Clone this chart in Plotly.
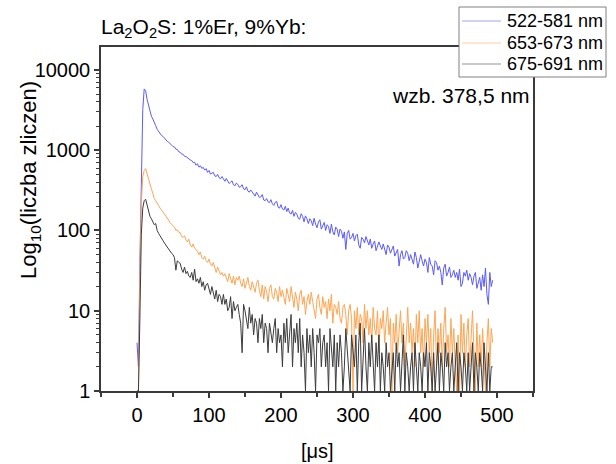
import plotly.graph_objects as go

# time axis (µs), step 2 µs
time_us = list(range(0, 496, 2))

blue_522_581 = [
    4, 2, 40, 700, 3200, 5800, 5500, 4300, 3600, 3000,
    2650, 2450, 2150, 2020, 1820, 1700, 1640, 1530, 1490, 1410,
    1340, 1290, 1260, 1200, 1170, 1110, 1100, 1030, 1020, 955,
    945, 895, 890, 840, 835, 800, 780, 755, 745, 700,
    710, 650, 680, 615, 640, 595, 610, 565, 590, 530,
    560, 505, 515, 530, 480, 470, 500, 455, 440, 470,
    440, 410, 445, 420, 385, 400, 415, 370, 360, 390,
    375, 345, 350, 372, 330, 322, 350, 310, 300, 320,
    305, 290, 268, 300, 282, 258, 262, 280, 240, 235,
    250, 228, 222, 242, 215, 205, 225, 230, 195, 190,
    210, 185, 180, 200, 172, 190, 165, 160, 178, 150,
    168, 160, 142, 138, 162, 150, 128, 152, 140, 122,
    140, 132, 115, 142, 120, 108, 128, 136, 104, 112,
    126, 100, 118, 112, 92, 120, 96, 88, 110, 104,
    84, 104, 98, 80, 96, 58, 92, 100, 78, 82,
    92, 74, 86, 90, 66, 60, 82, 78, 70, 84,
    72, 66, 78, 60, 68, 74, 56, 62, 72, 64,
    58, 68, 56, 50, 66, 62, 52, 58, 64, 48,
    54, 58, 36, 50, 56, 44, 46, 56, 52, 42,
    50, 44, 38, 54, 46, 34, 40, 50, 42, 36,
    44, 40, 30, 46, 38, 36, 28, 42, 40, 32,
    36, 30, 21, 34, 38, 27, 30, 35, 26, 28,
    32, 26, 30, 24, 33, 20, 22, 30, 27, 32,
    24, 29, 26, 21, 27, 30, 19, 22, 26, 18,
    28, 20, 34, 16, 12, 30, 20, 24,
]

orange_653_673 = [
    1, 1, 30, 220, 470, 560, 590, 500, 430, 360,
    330, 290, 250, 235, 215, 205, 190, 180, 165, 158,
    150, 140, 135, 125, 120, 113, 110, 100, 102, 95,
    94, 84, 82, 86, 76, 72, 78, 66, 62, 68,
    60, 58, 55, 50, 54, 46, 44, 48, 42, 40,
    44, 38, 36, 40, 33, 30, 35, 31, 28, 30,
    27, 29, 25, 23, 29, 26, 22, 27, 21, 26,
    24, 27, 22, 20, 25, 19, 23, 26, 20, 18,
    23, 20, 17, 22, 24, 18, 15, 21, 14, 20,
    17, 13, 19, 21, 15, 14, 19, 17, 13, 20,
    15, 18, 14, 12, 19, 16, 13, 20, 15, 11,
    17, 14, 10, 16, 18, 12, 15, 9, 13, 16,
    12, 17, 13, 10, 8, 14, 16, 11, 9, 15,
    11, 13, 8, 14, 10, 16, 7, 12, 11, 9,
    13, 8, 7, 11, 12, 9, 5, 10, 12, 8,
    1, 10, 6, 11, 5, 9, 8, 4, 12, 6,
    10, 5, 8, 4, 11, 6, 5, 10, 3, 8,
    6, 10, 4, 7, 11, 5, 8, 1, 7, 4,
    9, 3, 6, 10, 4, 7, 2, 6, 11, 4,
    7, 3, 6, 2, 9, 4, 10, 3, 6, 2,
    8, 4, 9, 3, 6, 1, 5, 10, 2, 6,
    3, 7, 2, 6, 11, 3, 5, 2, 8, 3,
    6, 2, 1, 5, 1, 9, 3, 7, 2, 5,
    8, 2, 5, 10, 3, 1, 7, 2, 5, 2,
    6, 2, 1, 4, 8, 2, 6, 4,
]

black_675_691 = [
    1, 1, 8, 90, 190, 235, 245, 210, 170, 150,
    140, 130, 118, 122, 100, 92, 85, 78, 75, 70,
    66, 62, 58, 54, 52, 50, 46, 32, 42, 40,
    39, 33, 30, 35, 29, 31, 27, 26, 30, 24,
    33, 23, 25, 22, 26, 20, 23, 18, 21, 22,
    19, 16, 20, 17, 14, 18, 13, 16, 15, 12,
    16, 12, 14, 10, 11, 15, 8, 13, 10, 11,
    12, 9, 7, 3, 12, 10, 8, 6, 11, 7,
    9, 5, 8, 7, 4, 8, 6, 9, 4, 7,
    6, 3, 7, 5, 4, 6, 8, 3, 6, 4,
    5, 2, 7, 4, 8, 3, 5, 9, 2, 6,
    4, 7, 3, 8, 2, 5, 3, 1, 6, 3,
    5, 2, 6, 3, 1, 5, 4, 6, 2, 4,
    5, 2, 4, 1, 6, 3, 2, 5, 1, 4,
    2, 5, 3, 1, 2, 6, 3, 2, 1, 5,
    3, 2, 5, 1, 4, 7, 1, 3, 6, 2,
    1, 4, 2, 5, 2, 1, 4, 2, 5, 1,
    3, 2, 1, 4, 2, 3, 1, 2, 3, 1,
    4, 2, 3, 1, 2, 5, 1, 3, 2, 1,
    2, 3, 1, 4, 2, 1, 3, 2, 1, 3,
    2, 4, 1, 3, 2, 1, 3, 1, 2, 4,
    1, 3, 2, 1, 4, 2, 3, 1, 2, 3,
    1, 2, 4, 1, 3, 2, 1, 3, 2, 1,
    3, 1, 2, 4, 1, 3, 2, 1, 3, 2,
    1, 4, 2, 1, 3, 1, 2, 2,
]

series_names = ["522-581 nm", "653-673 nm", "675-691 nm"]
series_colors = ["#5a5aff", "#ffa552", "#3c3c3c"]
x_ticks = [0, 100, 200, 300, 400, 500]

FONT = "Liberation Sans, Arial, sans-serif"
AXC = "#3a3a3a"

# plot area in pixels (for converting legend box placement)
L, R, T, B = 101, 533, 47, 391
PW, PH = R - L, B - T


def px_x(p):
    return (p - L) / PW


def px_y(p):
    return (B - p) / PH


fig = go.Figure()
for name, ys, col in zip(series_names, [blue_522_581, orange_653_673, black_675_691], series_colors):
    fig.add_trace(go.Scatter(x=time_us, y=ys, mode="lines", name=name,
                             line=dict(color=col, width=1)))

shapes = [
    dict(type="rect", xref="paper", yref="paper",
         x0=px_x(459), x1=px_x(606), y0=px_y(77), y1=px_y(7),
         fillcolor="white", line=dict(color="#808080", width=1), layer="above"),
]
annotations = []
legend_rows = [21, 43, 64]
for name, col, yy in zip(series_names, series_colors, legend_rows):
    shapes.append(dict(type="line", xref="paper", yref="paper",
                       x0=px_x(462), x1=px_x(501), y0=px_y(yy), y1=px_y(yy),
                       line=dict(color=col, width=1), opacity=0.55, layer="above"))
    annotations.append(dict(text=name, xref="paper", yref="paper",
                            x=px_x(505), y=px_y(yy), xanchor="left", yanchor="middle",
                            showarrow=False, font=dict(family=FONT, size=18)))

annotations += [
    dict(text="La<sub>2</sub>O<sub>2</sub>S: 1%Er, 9%Yb:", xref="paper", yref="paper",
         x=-0.005, y=1.0, xanchor="left", yanchor="bottom", yshift=4,
         showarrow=False, font=dict(family=FONT, size=21)),
    dict(text="wzb. 378,5 nm", xref="paper", yref="paper",
         x=px_x(532), y=px_y(95), xanchor="right", yanchor="middle",
         showarrow=False, font=dict(family=FONT, size=21)),
    dict(text="[\u03bcs]", xref="paper", yref="paper",
         x=0.5, y=px_y(451), xanchor="center", yanchor="middle",
         showarrow=False, font=dict(family=FONT, size=20)),
    dict(text="Log<sub>10</sub>(liczba zliczen)", xref="paper", yref="paper",
         x=px_x(30), y=px_y(180), xanchor="center", yanchor="middle",
         textangle=-90, showarrow=False, font=dict(family=FONT, size=22)),
]

fig.update_layout(
    width=616, height=464,
    margin=dict(l=L, r=616 - R, t=T, b=464 - B),
    paper_bgcolor="white", plot_bgcolor="white",
    font=dict(family=FONT, size=20, color="black"),
    showlegend=False,
    xaxis=dict(range=[-50, 550], tickmode="array", tickvals=x_ticks,
               ticks="outside", ticklen=5, tickwidth=1.5, tickcolor=AXC,
               showline=True, linecolor=AXC, linewidth=1.5, mirror=True,
               showgrid=False, zeroline=False,
               tickfont=dict(family=FONT, size=20),
               minor=dict(tickmode="linear", tick0=0, dtick=50, ticks="outside",
                          ticklen=4, tickwidth=1.5, tickcolor=AXC, showgrid=False)),
    yaxis=dict(type="log", range=[0, 4.286], tickmode="linear", tick0=0, dtick=1,
               tickformat="d",
               ticks="outside", ticklen=5, tickwidth=1.5, tickcolor=AXC,
               showline=True, linecolor=AXC, linewidth=1.5, mirror=True,
               showgrid=False, zeroline=False,
               tickfont=dict(family=FONT, size=20),
               minor=dict(ticks="outside", ticklen=3, tickwidth=1, tickcolor=AXC,
                          dtick="D1", showgrid=False)),
    shapes=shapes,
    annotations=annotations,
)

fig.write_html("out.html")
